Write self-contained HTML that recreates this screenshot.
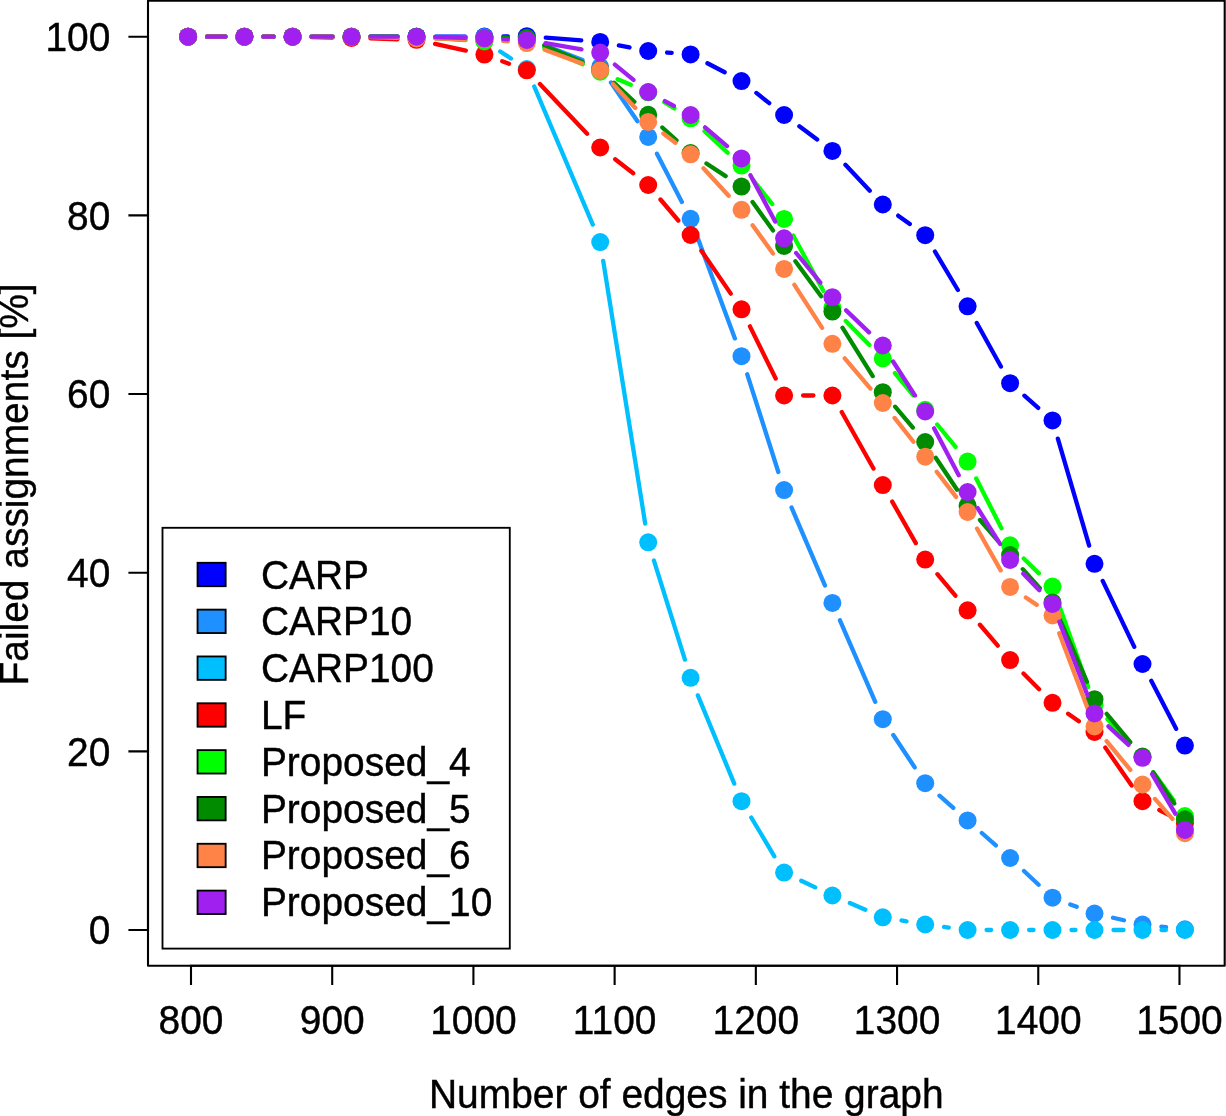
<!DOCTYPE html>
<html><head><meta charset="utf-8"><title>Failed assignments</title>
<style>html,body{margin:0;padding:0;background:#fff}svg{display:block}text{font-family:"Liberation Sans",sans-serif;font-size:38.9px;fill:#000;stroke:#000;stroke-width:0.4px}</style></head>
<body><div style="width:1226px;height:1116px;overflow:hidden;will-change:transform">
<svg width="1226" height="1116" viewBox="0 0 1226 1116">
<rect width="1226" height="1116" fill="#fff"/>
<g fill="#0000FF" stroke="none"><path d="M207.1 36.7L225.4 36.7M263.4 36.7L273.6 36.7M311.6 36.7L332.5 36.7M370.5 36.7L397.5 36.7M435.5 36.67L465.4 36.63M503.4 36.42L507.8 36.38M545.74 37.67L581.26 40.43M618.87 45.44L629.53 47.46M667.14 52.52L671.66 52.88M707.43 63.23L724.67 72.27M756.37 92.93L769.23 103.17M799.35 126.33L817.15 139.57M845.42 164.74L869.78 190.66M898.19 215.64L909.81 224.06M934.93 251.52L957.87 289.98M976.79 322.93L1000.91 366.57M1024.38 395.73L1038.22 407.87M1057.84 438.63L1089.16 545.57M1102.71 580.94L1134.29 646.86M1151.26 680.86L1176.14 728.74" fill="none" stroke="#0000FF" stroke-width="4.3" stroke-linecap="round"/>
<circle cx="188.1" cy="36.7" r="9.0"/><circle cx="244.4" cy="36.7" r="9.0"/><circle cx="292.6" cy="36.7" r="9.0"/><circle cx="351.5" cy="36.7" r="9.0"/><circle cx="416.5" cy="36.7" r="9.0"/><circle cx="484.4" cy="36.6" r="9.0"/><circle cx="526.8" cy="36.2" r="9.0"/><circle cx="600.2" cy="41.9" r="9.0"/><circle cx="648.2" cy="51" r="9.0"/><circle cx="690.6" cy="54.4" r="9.0"/><circle cx="741.5" cy="81.1" r="9.0"/><circle cx="784.1" cy="115" r="9.0"/><circle cx="832.4" cy="150.9" r="9.0"/><circle cx="882.8" cy="204.5" r="9.0"/><circle cx="925.2" cy="235.2" r="9.0"/><circle cx="967.6" cy="306.3" r="9.0"/><circle cx="1010.1" cy="383.2" r="9.0"/><circle cx="1052.5" cy="420.4" r="9.0"/><circle cx="1094.5" cy="563.8" r="9.0"/><circle cx="1142.5" cy="664" r="9.0"/><circle cx="1184.9" cy="745.6" r="9.0"/></g>
<g fill="#1E90FF" stroke="none"><path d="M207.1 36.7L225.4 36.7M263.4 36.7L273.6 36.7M311.6 36.7L332.5 36.7M370.5 36.7L397.5 36.7M435.5 36.78L465.4 36.92M503.39 37.67L507.81 37.83M544.52 45.36L582.48 60.04M610.95 82.57L637.45 121.23M656.94 153.77L681.86 201.93M697.2 236.62L734.9 338.38M747.26 374.31L778.34 471.99M791.58 507.57L824.92 585.43M839.95 620.33L875.25 701.77M893.29 735.04L914.71 767.36M939.48 795.73L953.32 807.87M981.83 832.99L995.87 845.41M1023.97 870.99L1038.63 884.71M1070.28 904.39L1076.72 906.81M1113.02 917.74L1123.98 920.26M1161.38 926.64L1166.02 927.16" fill="none" stroke="#1E90FF" stroke-width="4.3" stroke-linecap="round"/>
<circle cx="188.1" cy="36.7" r="9.0"/><circle cx="244.4" cy="36.7" r="9.0"/><circle cx="292.6" cy="36.7" r="9.0"/><circle cx="351.5" cy="36.7" r="9.0"/><circle cx="416.5" cy="36.7" r="9.0"/><circle cx="484.4" cy="37" r="9.0"/><circle cx="526.8" cy="38.5" r="9.0"/><circle cx="600.2" cy="66.9" r="9.0"/><circle cx="648.2" cy="136.9" r="9.0"/><circle cx="690.6" cy="218.8" r="9.0"/><circle cx="741.5" cy="356.2" r="9.0"/><circle cx="784.1" cy="490.1" r="9.0"/><circle cx="832.4" cy="602.9" r="9.0"/><circle cx="882.8" cy="719.2" r="9.0"/><circle cx="925.2" cy="783.2" r="9.0"/><circle cx="967.6" cy="820.4" r="9.0"/><circle cx="1010.1" cy="858" r="9.0"/><circle cx="1052.5" cy="897.7" r="9.0"/><circle cx="1094.5" cy="913.5" r="9.0"/><circle cx="1142.5" cy="924.5" r="9.0"/><circle cx="1184.9" cy="929.3" r="9.0"/></g>
<g fill="#00BFFF" stroke="none"><path d="M207.1 36.7L225.4 36.7M263.4 36.7L273.6 36.7M311.6 36.7L332.5 36.7M370.5 36.7L397.5 36.7M435.46 37.9L465.44 39.8M500.25 51.47L510.95 58.53M534.22 86.49L592.78 224.57M603.2 260.82L645.2 523.54M653.87 560.43L684.93 659.67M697.84 695.36L734.26 783.64M751.24 817.52L774.36 856.28M801.27 880.74L815.23 887.36M849.84 903.04L865.36 909.76M901.53 920.48L906.47 921.32M944.04 926.94L948.76 927.56M986.6 930L991.1 930M1029.1 930L1033.5 930M1071.5 930L1075.5 930M1113.5 930L1123.5 930M1161.5 930L1165.9 930" fill="none" stroke="#00BFFF" stroke-width="4.3" stroke-linecap="round"/>
<circle cx="188.1" cy="36.7" r="9.0"/><circle cx="244.4" cy="36.7" r="9.0"/><circle cx="292.6" cy="36.7" r="9.0"/><circle cx="351.5" cy="36.7" r="9.0"/><circle cx="416.5" cy="36.7" r="9.0"/><circle cx="484.4" cy="41" r="9.0"/><circle cx="526.8" cy="69" r="9.0"/><circle cx="600.2" cy="242.06" r="9.0"/><circle cx="648.2" cy="542.3" r="9.0"/><circle cx="690.6" cy="677.8" r="9.0"/><circle cx="741.5" cy="801.2" r="9.0"/><circle cx="784.1" cy="872.6" r="9.0"/><circle cx="832.4" cy="895.5" r="9.0"/><circle cx="882.8" cy="917.3" r="9.0"/><circle cx="925.2" cy="924.5" r="9.0"/><circle cx="967.6" cy="930" r="9.0"/><circle cx="1010.1" cy="930" r="9.0"/><circle cx="1052.5" cy="930" r="9.0"/><circle cx="1094.5" cy="930" r="9.0"/><circle cx="1142.5" cy="930" r="9.0"/><circle cx="1184.9" cy="930" r="9.0"/></g>
<g fill="#FF0000" stroke="none"><path d="M207.1 36.7L225.4 36.7M263.4 36.7L273.6 36.7M311.6 37.09L332.5 37.51M370.49 38.46L397.51 39.24M435.06 43.85L465.84 50.55M502.22 61.2L508.98 63.7M539.89 84.07L587.11 133.73M615.17 159.2L633.23 173.3M660.49 199.49L678.31 220.51M701.34 250.67L730.76 293.63M749.92 326.33L775.68 378.47M803.1 395.5L813.4 395.5M841.71 412.06L873.49 468.54M892.2 501.61L915.8 543.09M937.39 574.17L955.41 595.73M979.93 624.75L997.77 645.65M1023.49 673.58L1039.11 689.32M1068.1 713.65L1078.9 721.15M1105.33 747.61L1131.67 785.59M1159.33 810.01L1168.07 814.59" fill="none" stroke="#FF0000" stroke-width="4.3" stroke-linecap="round"/>
<circle cx="188.1" cy="36.7" r="9.0"/><circle cx="244.4" cy="36.7" r="9.0"/><circle cx="292.6" cy="36.7" r="9.0"/><circle cx="351.5" cy="37.9" r="9.0"/><circle cx="416.5" cy="39.8" r="9.0"/><circle cx="484.4" cy="54.6" r="9.0"/><circle cx="526.8" cy="70.3" r="9.0"/><circle cx="600.2" cy="147.5" r="9.0"/><circle cx="648.2" cy="185" r="9.0"/><circle cx="690.6" cy="235" r="9.0"/><circle cx="741.5" cy="309.3" r="9.0"/><circle cx="784.1" cy="395.5" r="9.0"/><circle cx="832.4" cy="395.5" r="9.0"/><circle cx="882.8" cy="485.1" r="9.0"/><circle cx="925.2" cy="559.6" r="9.0"/><circle cx="967.6" cy="610.3" r="9.0"/><circle cx="1010.1" cy="660.1" r="9.0"/><circle cx="1052.5" cy="702.8" r="9.0"/><circle cx="1094.5" cy="732" r="9.0"/><circle cx="1142.5" cy="801.2" r="9.0"/><circle cx="1184.9" cy="823.4" r="9.0"/></g>
<g fill="#00FF00" stroke="none"><path d="M207.1 36.7L225.4 36.7M263.4 36.7L273.6 36.7M311.6 36.7L332.5 36.7M370.5 36.7L397.5 36.7M435.45 38.04L465.45 40.16M503.39 40.83L507.81 40.67M544.24 47.53L582.76 64.17M617.66 79.19L630.74 84.81M664.4 102.23L674.4 108.37M704.52 131.23L727.58 152.67M753.36 180.44L772.24 204.06M793.19 235.58L823.31 290.82M845.76 321.01L869.44 344.99M894.9 373.15L913.1 395.15M937.23 424.5L955.57 446.9M976.2 478.54L1001.5 528.36M1023.71 558.56L1038.89 573.34M1058.85 604.51L1088.15 687.09M1107.39 718.96L1129.61 743.04M1153.59 772.43L1173.81 800.57" fill="none" stroke="#00FF00" stroke-width="4.3" stroke-linecap="round"/>
<circle cx="188.1" cy="36.7" r="9.0"/><circle cx="244.4" cy="36.7" r="9.0"/><circle cx="292.6" cy="36.7" r="9.0"/><circle cx="351.5" cy="36.7" r="9.0"/><circle cx="416.5" cy="36.7" r="9.0"/><circle cx="484.4" cy="41.5" r="9.0"/><circle cx="526.8" cy="40" r="9.0"/><circle cx="600.2" cy="71.7" r="9.0"/><circle cx="648.2" cy="92.3" r="9.0"/><circle cx="690.6" cy="118.3" r="9.0"/><circle cx="741.5" cy="165.6" r="9.0"/><circle cx="784.1" cy="218.9" r="9.0"/><circle cx="832.4" cy="307.5" r="9.0"/><circle cx="882.8" cy="358.5" r="9.0"/><circle cx="925.2" cy="409.8" r="9.0"/><circle cx="967.6" cy="461.6" r="9.0"/><circle cx="1010.1" cy="545.3" r="9.0"/><circle cx="1052.5" cy="586.6" r="9.0"/><circle cx="1094.5" cy="705" r="9.0"/><circle cx="1142.5" cy="757" r="9.0"/><circle cx="1184.9" cy="816" r="9.0"/></g>
<g fill="#008B00" stroke="none"><path d="M207.1 36.7L225.4 36.7M263.4 36.7L273.6 36.7M311.6 36.7L332.5 36.7M370.5 36.7L397.5 36.7M435.5 37.12L465.4 37.78M503.4 38.02L507.8 37.98M544.23 45.37L582.77 62.13M614.05 82.71L634.35 101.79M662.32 127.52L676.48 140.28M706.46 163.47L725.64 176.13M752.57 202.04L773.03 230.56M795.37 261.3L821.13 296.3M842.47 327.71L872.73 376.09M895.12 406.67L912.88 427.53M935.74 457.81L957.06 489.79M979.99 520L997.71 540.6M1022.77 569.16L1039.83 588.24M1060.06 619.83L1086.94 681.77M1106.69 713.78L1130.31 742.02M1153.14 772.34L1174.26 803.56" fill="none" stroke="#008B00" stroke-width="4.3" stroke-linecap="round"/>
<circle cx="188.1" cy="36.7" r="9.0"/><circle cx="244.4" cy="36.7" r="9.0"/><circle cx="292.6" cy="36.7" r="9.0"/><circle cx="351.5" cy="36.7" r="9.0"/><circle cx="416.5" cy="36.7" r="9.0"/><circle cx="484.4" cy="38.2" r="9.0"/><circle cx="526.8" cy="37.8" r="9.0"/><circle cx="600.2" cy="69.7" r="9.0"/><circle cx="648.2" cy="114.8" r="9.0"/><circle cx="690.6" cy="153" r="9.0"/><circle cx="741.5" cy="186.6" r="9.0"/><circle cx="784.1" cy="246" r="9.0"/><circle cx="832.4" cy="311.6" r="9.0"/><circle cx="882.8" cy="392.2" r="9.0"/><circle cx="925.2" cy="442" r="9.0"/><circle cx="967.6" cy="505.6" r="9.0"/><circle cx="1010.1" cy="555" r="9.0"/><circle cx="1052.5" cy="602.4" r="9.0"/><circle cx="1094.5" cy="699.2" r="9.0"/><circle cx="1142.5" cy="756.6" r="9.0"/><circle cx="1184.9" cy="819.3" r="9.0"/></g>
<g fill="#FF8247" stroke="none"><path d="M207.1 36.7L225.4 36.7M263.4 36.7L273.6 36.7M311.6 36.7L332.5 36.7M370.49 37.2L397.51 37.9M435.5 38.62L465.4 38.98M503.32 40.94L507.88 41.36M544.62 49.68L582.38 63.62M613.13 84.12L635.27 107.98M663.3 133.44L675.5 142.76M703.44 168.3L728.66 195.8M752.61 225.21L772.99 253.49M794.4 284.87L822.1 327.83M844.72 358.27L870.48 388.53M894.57 417.91L913.43 441.79M936.76 471.78L956.04 496.92M976.98 528.53L1000.72 570.37M1025.85 597.52L1036.75 604.88M1059.22 633.27L1087.78 708.73M1106.6 741.15L1130.4 769.95M1154.99 798.92L1172.41 818.88" fill="none" stroke="#FF8247" stroke-width="4.3" stroke-linecap="round"/>
<circle cx="188.1" cy="36.7" r="9.0"/><circle cx="244.4" cy="36.7" r="9.0"/><circle cx="292.6" cy="36.7" r="9.0"/><circle cx="351.5" cy="36.7" r="9.0"/><circle cx="416.5" cy="38.4" r="9.0"/><circle cx="484.4" cy="39.2" r="9.0"/><circle cx="526.8" cy="43.1" r="9.0"/><circle cx="600.2" cy="70.2" r="9.0"/><circle cx="648.2" cy="121.9" r="9.0"/><circle cx="690.6" cy="154.3" r="9.0"/><circle cx="741.5" cy="209.8" r="9.0"/><circle cx="784.1" cy="268.9" r="9.0"/><circle cx="832.4" cy="343.8" r="9.0"/><circle cx="882.8" cy="403" r="9.0"/><circle cx="925.2" cy="456.7" r="9.0"/><circle cx="967.6" cy="512" r="9.0"/><circle cx="1010.1" cy="586.9" r="9.0"/><circle cx="1052.5" cy="615.5" r="9.0"/><circle cx="1094.5" cy="726.5" r="9.0"/><circle cx="1142.5" cy="784.6" r="9.0"/><circle cx="1184.9" cy="833.2" r="9.0"/></g>
<g fill="#A020F0" stroke="none"><path d="M207.1 36.7L225.4 36.7M263.4 36.7L273.6 36.7M311.6 36.7L332.5 36.7M370.5 36.7L397.5 36.7M435.49 37.18L465.41 37.92M503.39 39.12L507.81 39.28M545.53 43.21L581.47 49.39M614.89 64.65L633.51 79.95M664.9 101.06L673.9 105.94M705.06 127.33L727.04 146.07M750.44 175.17L775.16 221.53M796.15 252.99L820.35 282.51M846.12 310.35L869.08 332.35M893.07 361.49L914.93 395.51M934.05 428.31L958.75 475.19M977.67 508.11L1000.03 543.89M1023.3 573.67L1039.3 590.23M1059.3 621.64L1087.7 695.66M1108.45 726.3L1128.55 744.9M1152.12 774.18L1175.28 813.62" fill="none" stroke="#A020F0" stroke-width="4.3" stroke-linecap="round"/>
<circle cx="188.1" cy="36.7" r="9.0"/><circle cx="244.4" cy="36.7" r="9.0"/><circle cx="292.6" cy="36.7" r="9.0"/><circle cx="351.5" cy="36.7" r="9.0"/><circle cx="416.5" cy="36.7" r="9.0"/><circle cx="484.4" cy="38.4" r="9.0"/><circle cx="526.8" cy="40" r="9.0"/><circle cx="600.2" cy="52.6" r="9.0"/><circle cx="648.2" cy="92" r="9.0"/><circle cx="690.6" cy="115" r="9.0"/><circle cx="741.5" cy="158.4" r="9.0"/><circle cx="784.1" cy="238.3" r="9.0"/><circle cx="832.4" cy="297.2" r="9.0"/><circle cx="882.8" cy="345.5" r="9.0"/><circle cx="925.2" cy="411.5" r="9.0"/><circle cx="967.6" cy="492" r="9.0"/><circle cx="1010.1" cy="560" r="9.0"/><circle cx="1052.5" cy="603.9" r="9.0"/><circle cx="1094.5" cy="713.4" r="9.0"/><circle cx="1142.5" cy="757.8" r="9.0"/><circle cx="1184.9" cy="830" r="9.0"/></g>
<g stroke="#000" stroke-width="2.1" fill="none" stroke-linecap="butt">
<path d="M190 965.8H1180.47"/>
<path d="M191 965.8V985M332.21 965.8V985M473.42 965.8V985M614.63 965.8V985M755.84 965.8V985M897.05 965.8V985M1038.26 965.8V985M1179.47 965.8V985"/>
<path d="M148.0 931V35.7"/>
<path d="M148.0 930H128.4M148.0 751.34H128.4M148.0 572.68H128.4M148.0 394.02H128.4M148.0 215.36H128.4M148.0 36.7H128.4"/>
<rect x="148.0" y="0.8" width="1076.7" height="965" stroke-linejoin="round"/>
</g>
<text transform="translate(191 1033.5) scale(1 1.035)" text-anchor="middle">800</text>
<text transform="translate(332.21 1033.5) scale(1 1.035)" text-anchor="middle">900</text>
<text transform="translate(473.42 1033.5) scale(1 1.035)" text-anchor="middle">1000</text>
<text transform="translate(614.63 1033.5) scale(1 1.035)" text-anchor="middle">1100</text>
<text transform="translate(755.84 1033.5) scale(1 1.035)" text-anchor="middle">1200</text>
<text transform="translate(897.05 1033.5) scale(1 1.035)" text-anchor="middle">1300</text>
<text transform="translate(1038.26 1033.5) scale(1 1.035)" text-anchor="middle">1400</text>
<text transform="translate(1179.47 1033.5) scale(1 1.035)" text-anchor="middle">1500</text>
<text transform="translate(110.3 944.2) scale(1 1.035)" text-anchor="end">0</text>
<text transform="translate(110.3 765.54) scale(1 1.035)" text-anchor="end">20</text>
<text transform="translate(110.3 586.88) scale(1 1.035)" text-anchor="end">40</text>
<text transform="translate(110.3 408.22) scale(1 1.035)" text-anchor="end">60</text>
<text transform="translate(110.3 229.56) scale(1 1.035)" text-anchor="end">80</text>
<text transform="translate(110.3 50.9) scale(1 1.035)" text-anchor="end">100</text>
<text transform="translate(686.3 1107.6) scale(1 1.035)" text-anchor="middle">Number of edges in the graph</text>
<text transform="translate(28.2 484.4) rotate(-90) scale(1 1.035)" text-anchor="middle">Failed assignments [%]</text>
<rect x="162.5" y="527.8" width="347.3" height="420.8" fill="#fff" stroke="#000" stroke-width="1.85"/>
<rect x="197.55" y="562.8" width="28.1" height="23.4" fill="#0000FF" stroke="#000" stroke-width="1.85"/>
<text transform="translate(260.9 588.5) scale(1 1.035)" text-anchor="start">CARP</text>
<rect x="197.55" y="609.63" width="28.1" height="23.4" fill="#1E90FF" stroke="#000" stroke-width="1.85"/>
<text transform="translate(260.9 635.33) scale(1 1.035)" text-anchor="start">CARP10</text>
<rect x="197.55" y="656.46" width="28.1" height="23.4" fill="#00BFFF" stroke="#000" stroke-width="1.85"/>
<text transform="translate(260.9 682.16) scale(1 1.035)" text-anchor="start">CARP100</text>
<rect x="197.55" y="703.29" width="28.1" height="23.4" fill="#FF0000" stroke="#000" stroke-width="1.85"/>
<text transform="translate(260.9 728.99) scale(1 1.035)" text-anchor="start">LF</text>
<rect x="197.55" y="750.12" width="28.1" height="23.4" fill="#00FF00" stroke="#000" stroke-width="1.85"/>
<text transform="translate(260.9 775.82) scale(1 1.035)" text-anchor="start">Proposed_4</text>
<rect x="197.55" y="796.95" width="28.1" height="23.4" fill="#008B00" stroke="#000" stroke-width="1.85"/>
<text transform="translate(260.9 822.65) scale(1 1.035)" text-anchor="start">Proposed_5</text>
<rect x="197.55" y="843.78" width="28.1" height="23.4" fill="#FF8247" stroke="#000" stroke-width="1.85"/>
<text transform="translate(260.9 869.48) scale(1 1.035)" text-anchor="start">Proposed_6</text>
<rect x="197.55" y="890.61" width="28.1" height="23.4" fill="#A020F0" stroke="#000" stroke-width="1.85"/>
<text transform="translate(260.9 916.31) scale(1 1.035)" text-anchor="start">Proposed_10</text>
</svg></div></body></html>
